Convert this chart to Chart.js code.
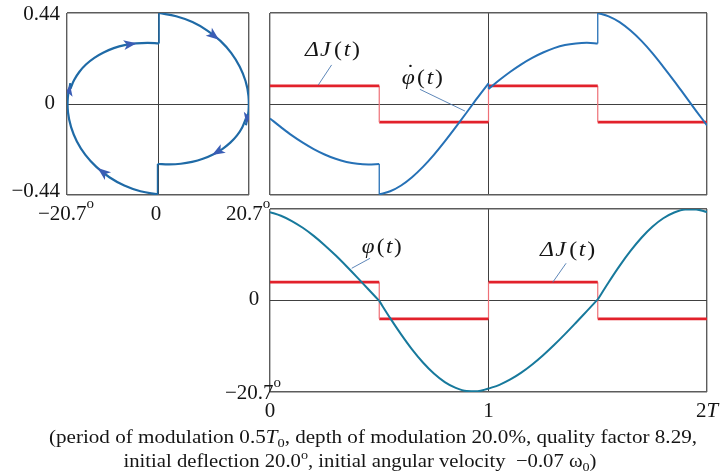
<!DOCTYPE html>
<html>
<head>
<meta charset="utf-8">
<script src="https://cdn.jsdelivr.net/npm/chart.js@4.4.1/dist/chart.umd.min.js"></script>
<style>
  html, body { margin: 0; padding: 0; background: #ffffff; }
  #stage { position: relative; width: 727px; height: 475px; overflow: hidden; }
  #stage canvas { position: absolute; left: 0; top: 0; }
</style>
</head>
<body>
<div id="stage">
  <canvas id="portrait" width="727" height="475"></canvas>
  <canvas id="rate" width="727" height="475"></canvas>
  <canvas id="angle" width="727" height="475"></canvas>
</div>
<script>
// Sample times in units of T, 0.05 apart; every half period holds 11 samples.
const timeGrid = [0, 0.05, 0.1, 0.15, 0.2, 0.25, 0.3, 0.35, 0.4, 0.45, 0.5,
  0.55, 0.6, 0.65, 0.7, 0.75, 0.8, 0.85, 0.9, 0.95, 1,
  1.05, 1.1, 1.15, 1.2, 1.25, 1.3, 1.35, 1.4, 1.45, 1.5,
  1.55, 1.6, 1.65, 1.7, 1.75, 1.8, 1.85, 1.9, 1.95, 2];

// Deflection phi(t) in degrees, one list per half period of the modulation.
const angle1 = [20.00, 19.18, 17.98, 16.45, 14.62, 12.52, 10.22, 7.75, 5.18, 2.54, -0.09];
const angle2 = [-0.09, -3.99, -7.67, -11.06, -14.03, -16.52, -18.45, -19.77, -20.47, -20.51, -19.93];
const angle3 = [-19.93, -19.08, -17.87, -16.33, -14.48, -12.38, -10.07, -7.60, -5.02, -2.39, 0.24];
const angle4 = [0.24, 4.14, 7.84, 11.22, 14.20, 16.68, 18.60, 19.91, 20.58, 20.60, 19.99];

// Angular velocity in units of omega0; it jumps whenever J switches.
const rate1 = [-0.070, -0.112, -0.152, -0.187, -0.218, -0.244, -0.265, -0.280, -0.289, -0.292, -0.290];
const rate2 = [-0.437, -0.422, -0.394, -0.354, -0.304, -0.246, -0.181, -0.112, -0.041, 0.031, 0.100];
const rate3 = [0.073, 0.116, 0.156, 0.192, 0.223, 0.249, 0.270, 0.285, 0.293, 0.296, 0.293];
const rate4 = [0.440, 0.424, 0.396, 0.355, 0.305, 0.246, 0.180, 0.111, 0.039, -0.033, -0.103];

// Relative change of the moment of inertia in each half period.
const deltaJ = [0.2, -0.2, 0.2, -0.2];

const timeTicks = [0, 1, 2];
const timeTickLabels = ['0', '1', '2T'];
const rateTicks = [-0.44, 0, 0.44];
const rateTickLabels = ['\u22120.44', '0', '0.44'];
const angleTicks = [-20.7, 0, 20.7];
const angleTickLabels = ['\u221220.7', '0', '20.7'];

// Samples (half period, index) where direction arrows sit on the phase curve.
const arrowSamples = [[2, 7], [3, 3], [0, 4], [1, 3], [1, 9], [3, 9]];

const angleSegs = [angle1, angle2, angle3, angle4];
const rateSegs = [rate1, rate2, rate3, rate4];

const SERIF = '"Liberation Serif", "Times New Roman", serif';
const INK = '#151515';
const FRAME = '#5c5c5c';
const AXIS = '#404040';
const RED = '#e2212b';
const RED_SOFT = '#ee7077';
const RATE_BLUE = '#2671b6';
const ANGLE_BLUE = '#17799c';
const PHASE_BLUE = '#1f6aa6';
const ARROW_BLUE = '#3a5db5';
const LEAD = '#4c79b0';

function font(size, italic) {
  return (italic ? 'italic ' : '') + size + 'px ' + SERIF;
}

// Draws a run of text pieces (mixed italic / sub / superscript) on one baseline.
function drawRich(ctx, parts, x, y, o = {}) {
  const base = o.size || 21;
  const adv = [];
  let nat = 0;
  parts.forEach(p => {
    ctx.font = font(p.size || base, p.it);
    const w = ctx.measureText(p.s).width;
    adv.push(w);
    if (!p.over) nat += w + (p.gap || 0);
  });
  const w = o.width || nat;
  const x0 = o.align === 'center' ? x - w / 2 : o.align === 'right' ? x - w : x;
  ctx.save();
  ctx.translate(x0, y);
  ctx.scale(w / nat, 1);
  ctx.textAlign = 'left';
  ctx.textBaseline = 'alphabetic';
  let cx = 0, prevX = 0, prevW = 0;
  parts.forEach((p, i) => {
    ctx.font = font(p.size || base, p.it);
    if (p.over) {
      ctx.fillText(p.s, prevX + (prevW - adv[i]) / 2 + (p.dx || 0), p.dy || 0);
    } else {
      ctx.fillText(p.s, cx, p.dy || 0);
      prevX = cx; prevW = adv[i];
      cx += adv[i] + (p.gap || 0);
    }
  });
  ctx.restore();
}

function tickText(label, degree) {
  const m = label.match(/^([^A-Za-z]*)([A-Za-z]*)$/);
  const parts = [{ s: m[1] }];
  if (m[2]) parts.push({ s: m[2], it: true });
  if (degree && label !== '0') parts.push({ s: 'o', size: 15, dy: -12.5 });
  return parts;
}

function frameAxis(min, max, marks) {
  const edge = c => c.tick && (c.tick.value === min || c.tick.value === max);
  return {
    type: 'linear', min, max,
    afterBuildTicks: ax => { ax.ticks = marks.map(value => ({ value })); },
    ticks: { display: false },
    border: { display: false },
    grid: {
      drawTicks: false,
      color: c => edge(c) ? FRAME : AXIS,
      lineWidth: c => edge(c) ? 1.4 : 1
    }
  };
}

const jAxis = { type: 'linear', min: -1, max: 1, display: false };

function timeCurve(segs, color) {
  const out = [];
  segs.forEach((vals, k) => {
    out.push({
      data: vals.map((v, i) => ({ x: timeGrid[k * 10 + i], y: v })),
      borderColor: color, borderWidth: 2, pointRadius: 0,
      cubicInterpolationMode: 'monotone', yAxisID: 'y', order: 0
    });
    if (k < segs.length - 1) {
      const tEnd = timeGrid[(k + 1) * 10];
      out.push({
        data: [{ x: tEnd, y: vals[vals.length - 1] }, { x: tEnd, y: segs[k + 1][0] }],
        borderColor: color, borderWidth: 1.3, pointRadius: 0, yAxisID: 'y', order: 0
      });
    }
  });
  return out;
}

function stepCurve() {
  const out = [];
  deltaJ.forEach((v, k) => {
    const t0 = timeGrid[k * 10], t1 = timeGrid[(k + 1) * 10];
    out.push({
      data: [{ x: t0, y: v }, { x: t1, y: v }],
      borderColor: RED, borderWidth: 2.8, pointRadius: 0, yAxisID: 'j', order: 1
    });
    if (k < deltaJ.length - 1) {
      out.push({
        data: [{ x: t1, y: v }, { x: t1, y: deltaJ[k + 1] }],
        borderColor: RED_SOFT, borderWidth: 1.2, pointRadius: 0, yAxisID: 'j', order: 1
      });
    }
  });
  return out;
}

function notesPlugin(id, notes) {
  return {
    id,
    afterDraw(chart) {
      const { ctx, scales: { x, y } } = chart;
      ctx.save();
      notes.forEach(n => {
        ctx.strokeStyle = LEAD;
        ctx.lineWidth = 0.9;
        ctx.beginPath();
        ctx.moveTo(x.getPixelForValue(n.lead[0][0]), y.getPixelForValue(n.lead[0][1]));
        ctx.lineTo(x.getPixelForValue(n.lead[1][0]), y.getPixelForValue(n.lead[1][1]));
        ctx.stroke();
        ctx.fillStyle = INK;
        drawRich(ctx, n.parts, x.getPixelForValue(n.at[0]), y.getPixelForValue(n.at[1]), { width: n.width });
      });
      ctx.restore();
    }
  };
}

const labelDJ = [{ s: '\u0394', it: true, gap: 1 }, { s: 'J', it: true, gap: 3 }, { s: '(', gap: 1.5 }, { s: 't', it: true, gap: 1.5 }, { s: ')' }];
const labelPhi = [{ s: '\u03c6', it: true, gap: 2 }, { s: '(', gap: 1.5 }, { s: 't', it: true, gap: 1.5 }, { s: ')' }];
const labelRate = [{ s: '\u03c6', it: true, gap: 2 }, { s: '\u02d9', over: true, dx: 2, dy: -5 }, { s: '(', gap: 1.5 }, { s: 't', it: true, gap: 1.5 }, { s: ')' }];

const common = {
  responsive: false,
  animation: false,
  devicePixelRatio: 1,
  events: [],
  plugins: { legend: { display: false }, tooltip: { enabled: false } }
};

// Phase portrait: angular velocity against deflection.
const portraitSets = [];
angleSegs.forEach((phi, k) => {
  portraitSets.push({
    data: phi.map((a, i) => ({ x: a, y: rateSegs[k][i] })),
    borderColor: PHASE_BLUE, borderWidth: 2.2, pointRadius: 0, tension: 0.4
  });
  if (k < angleSegs.length - 1) {
    portraitSets.push({
      data: [{ x: phi[phi.length - 1], y: rateSegs[k][phi.length - 1] }, { x: angleSegs[k + 1][0], y: rateSegs[k + 1][0] }],
      borderColor: PHASE_BLUE, borderWidth: 1.6, pointRadius: 0
    });
  }
});

new Chart(document.getElementById('portrait'), {
  type: 'line',
  data: { datasets: portraitSets },
  options: {
    ...common,
    layout: { padding: { left: 67, right: 478, top: 13, bottom: 280 } },
    scales: { x: frameAxis(-20.7, 20.7, angleTicks), y: frameAxis(-0.44, 0.44, rateTicks) }
  },
  plugins: [{
    id: 'portraitMarks',
    afterDatasetsDraw(chart) {
      const { ctx, chartArea: a, scales: { x, y } } = chart;
      ctx.save();
      ctx.beginPath();
      ctx.rect(a.left, a.top, a.right - a.left, a.bottom - a.top);
      ctx.clip();
      ctx.fillStyle = ARROW_BLUE;
      arrowSamples.forEach(([k, i], n) => {
        const x0 = x.getPixelForValue(angleSegs[k][i]), y0 = y.getPixelForValue(rateSegs[k][i]);
        const x1 = x.getPixelForValue(angleSegs[k][i + 1]), y1 = y.getPixelForValue(rateSegs[k][i + 1]);
        const mx = (x0 + x1) / 2, my = (y0 + y1) / 2;
        const ang = Math.atan2(y1 - y0, x1 - x0);
        const L = n < 4 ? 13 : 11, W = n < 4 ? 5 : 4.5;
        ctx.save();
        ctx.translate(mx, my);
        ctx.rotate(ang);
        ctx.beginPath();
        ctx.moveTo(L / 2, 0);
        ctx.lineTo(-L / 2, -W);
        ctx.lineTo(-L / 4, 0);
        ctx.lineTo(-L / 2, W);
        ctx.closePath();
        ctx.fill();
        ctx.restore();
      });
      ctx.restore();
    },
    afterDraw(chart) {
      const { ctx, chartArea: a, scales: { x, y } } = chart;
      ctx.save();
      ctx.fillStyle = INK;
      rateTicks.forEach((v, i) => {
        const py = y.getPixelForValue(v);
        const lift = v > 0 ? 7 : v < 0 ? 2 : 4.5;
        const right = v === 0 ? a.left - 12 : a.left - 7;
        drawRich(ctx, tickText(rateTickLabels[i], false), right, py + lift, { align: 'right' });
      });
      angleTicks.forEach((v, i) => {
        const px = x.getPixelForValue(v);
        drawRich(ctx, tickText(angleTickLabels[i], true), px - (v === 0 ? 2 : 1), a.bottom + 25, { align: 'center' });
      });
      ctx.restore();
    }
  }]
});

// Angular velocity and the inertia step against time.
new Chart(document.getElementById('rate'), {
  type: 'line',
  data: { datasets: [...timeCurve(rateSegs, RATE_BLUE), ...stepCurve()] },
  options: {
    ...common,
    layout: { padding: { left: 270, right: 20, top: 13, bottom: 280 } },
    scales: { x: frameAxis(0, 2, timeTicks), y: frameAxis(-0.44, 0.44, rateTicks), j: jAxis }
  },
  plugins: [notesPlugin('rateNotes', [
    { parts: labelDJ, at: [0.160, 0.232], width: 55, lead: [[0.282, 0.189], [0.221, 0.092]] },
    { parts: labelRate, at: [0.603, 0.097], width: 41, lead: [[0.686, 0.071], [0.892, -0.034]] }
  ])]
});

// Deflection and the inertia step against time, plus axis captions.
new Chart(document.getElementById('angle'), {
  type: 'line',
  data: { datasets: [...timeCurve(angleSegs, ANGLE_BLUE), ...stepCurve()] },
  options: {
    ...common,
    layout: { padding: { left: 270, right: 20, top: 209, bottom: 83 } },
    scales: { x: frameAxis(0, 2, timeTicks), y: frameAxis(-20.7, 20.7, angleTicks), j: jAxis }
  },
  plugins: [
    notesPlugin('angleNotes', [
      { parts: labelPhi, at: [0.420, 10.75], width: 40, lead: [[0.458, 9.55], [0.374, 7.29]] },
      { parts: labelDJ, at: [1.236, 10.07], width: 55, lead: [[1.355, 8.42], [1.294, 4.12]] }
    ]),
    {
      id: 'angleText',
      afterDraw(chart) {
        const { ctx, chartArea: a, scales: { x, y } } = chart;
        ctx.save();
        ctx.fillStyle = INK;
        angleTicks.forEach((v, i) => {
          if (v > 0) return; // the upper value is shared with the portrait's axis
          const py = y.getPixelForValue(v);
          if (v === 0) {
            drawRich(ctx, tickText(angleTickLabels[i], true), a.left - 10.7, py + 4.5, { align: 'right' });
          } else {
            drawRich(ctx, tickText(angleTickLabels[i], true), a.left + 11, py + 7, { align: 'right' });
          }
        });
        timeTicks.forEach((v, i) => {
          drawRich(ctx, tickText(timeTickLabels[i], false), x.getPixelForValue(v), a.bottom + 25, { align: 'center' });
        });
        drawRich(ctx, [
          { s: '(period of modulation 0.5' }, { s: 'T', it: true }, { s: '0', size: 13, dy: 4 },
          { s: ', depth of modulation 20.0%, quality factor 8.29,' }
        ], 49, 443, { size: 19, width: 648 });
        drawRich(ctx, [
          { s: 'initial deflection 20.0' }, { s: 'o', size: 13, dy: -8 },
          { s: ', initial angular velocity \u00a0\u22120.07 \u03c9' }, { s: '0', size: 13, dy: 4 }, { s: ')' }
        ], 123.5, 467, { size: 19, width: 473 });
        ctx.restore();
      }
    }
  ]
});
</script>
</body>
</html>
